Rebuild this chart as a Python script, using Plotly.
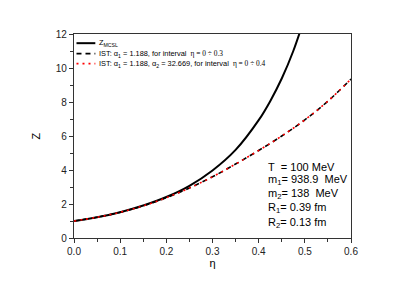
import plotly.graph_objects as go

eta_mcsl = [0.0, 0.05, 0.1, 0.15, 0.2, 0.25, 0.3, 0.35, 0.4, 0.425, 0.45, 0.475, 0.5]
z_mcsl = [1.0, 1.22, 1.52, 1.91, 2.41, 3.07, 3.97, 5.18, 6.93, 8.05, 9.38, 11.0, 13.0]

eta_ist = [0.0, 0.05, 0.1, 0.15, 0.2, 0.25, 0.3, 0.35, 0.4, 0.45, 0.5, 0.55, 0.6]
z_ist1 = [1.0, 1.22, 1.51, 1.89, 2.37, 2.94, 3.6, 4.35, 5.15, 6.0, 6.95, 8.05, 9.35]
z_ist2 = [1.0, 1.22, 1.51, 1.89, 2.37, 2.94, 3.6, 4.35, 5.15, 6.0, 6.95, 8.05, 9.35]

SERIF = '<span style="font-family:Liberation Serif">'
names = [
    "Z<sub>MCSL</sub>",
    "IST: α<sub>1</sub> = 1.188, for interval&nbsp; " + SERIF + "η = 0 ÷ 0.3</span>",
    "IST: α<sub>1</sub> = 1.188, α<sub>2</sub> = 32.669, for interval&nbsp; " + SERIF + "η = 0 ÷ 0.4</span>",
]
params = ["T&nbsp; = 100 MeV", "m<sub>1</sub>= 938.9&nbsp; MeV", "m<sub>2</sub>= 138&nbsp; MeV",
          "R<sub>1</sub>= 0.39 fm", "R<sub>2</sub>= 0.13 fm"]

styles = [
    dict(color="black", width=2),
    dict(color="black", width=1.6, dash="5px,4px"),
    dict(color="red", width=1.6, dash="2px,4px"),
]

fig = go.Figure()
fig.add_trace(go.Scatter(x=eta_mcsl, y=z_mcsl, mode="lines", name=names[0],
                         line=dict(shape="spline", **styles[0])))
fig.add_trace(go.Scatter(x=eta_ist, y=z_ist1, mode="lines", name=names[1],
                         line=dict(shape="spline", **styles[1])))
fig.add_trace(go.Scatter(x=eta_ist, y=z_ist2, mode="lines", name=names[2],
                         line=dict(shape="spline", **styles[2])))

# hand-placed legend (compact, like the original)
leg_y = [0.955, 0.904, 0.855]
for i in range(3):
    fig.add_shape(type="line", xref="paper", yref="paper",
                  x0=0.009, x1=0.077, y0=leg_y[i], y1=leg_y[i], line=styles[i])
    fig.add_annotation(x=0.084, y=leg_y[i], xref="paper", yref="paper",
                       text=names[i], showarrow=False, xanchor="left", yanchor="middle",
                       font=dict(family="Arial", size=7.4, color="black"))

param_y = [0.350, 0.284, 0.218, 0.145, 0.072]
for i, t in enumerate(params):
    fig.add_annotation(x=0.693, y=param_y[i], xref="paper", yref="paper",
                       text=t, showarrow=False, xanchor="left", yanchor="middle",
                       font=dict(family="Arial", size=11, color="black"))

axis_common = dict(showgrid=False, zeroline=False, showline=True, linecolor="#333",
                   linewidth=1.2, mirror=True, ticks="outside", ticklen=4,
                   tickcolor="#333", tickwidth=1,
                   tickfont=dict(family="Arial", size=10, color="#222"))

fig.update_xaxes(range=[0, 0.6], dtick=0.1, tickformat=".1f", ticklabelstandoff=0,
                 minor=dict(dtick=0.05, ticks="outside", ticklen=2.5, tickcolor="#333"),
                 title=dict(text="η", font=dict(family="Arial", size=11, color="black"), standoff=0),
                 **axis_common)
fig.update_yaxes(range=[0, 12], dtick=2,
                 minor=dict(dtick=1, ticks="outside", ticklen=2.5, tickcolor="#333"),
                 title=dict(text="Z", font=dict(family="Arial", size=11, color="black"), standoff=12),
                 **axis_common)

fig.update_layout(
    width=400, height=277,
    margin=dict(l=66, r=57, t=26, b=47),
    plot_bgcolor="white", paper_bgcolor="white",
    showlegend=False,
)

fig.write_html("out.html")
